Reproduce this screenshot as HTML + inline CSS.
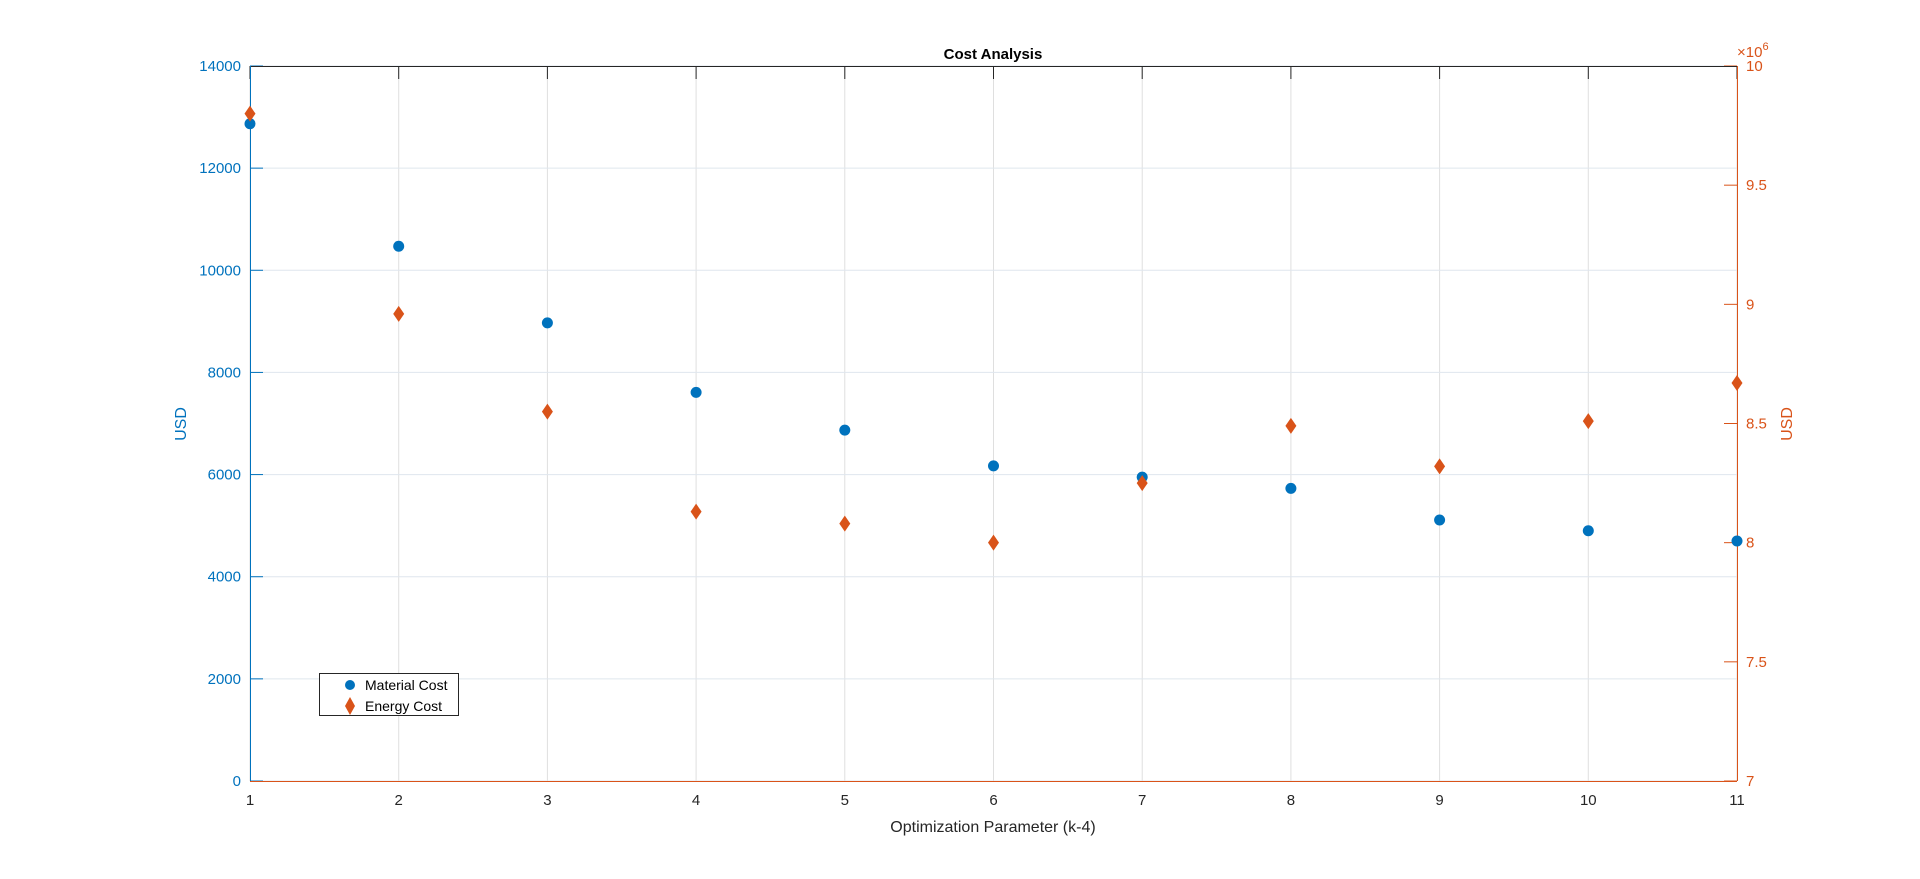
<!DOCTYPE html>
<html><head><meta charset="utf-8"><style>
body{margin:0;background:#fff;}
svg{display:block;font-family:"Liberation Sans",Arial,sans-serif;}
</style></head><body>
<svg id="chart" width="1920" height="879">
<rect width="1920" height="879" fill="#fff"/>
<g id="grid"></g>
<g id="axes"></g>
<g id="marks"></g>
<text x="993" y="59" text-anchor="middle" font-size="15" font-weight="bold" fill="#000">Cost Analysis</text>
<text x="993" y="832" text-anchor="middle" font-size="16" fill="#262626">Optimization Parameter (k-4)</text>
<text transform="translate(186,424) rotate(-90)" text-anchor="middle" font-size="16" fill="#0072bd">USD</text>
<text transform="translate(1792,424) rotate(-90)" text-anchor="middle" font-size="16" fill="#d95319">USD</text>
<text x="1737" y="57" font-size="15" fill="#d95319">×10<tspan dy="-7" font-size="11">6</tspan></text>
<g>
<rect x="319.5" y="673.5" width="139" height="42" fill="#fff" stroke="#262626" stroke-width="1"/>
<circle cx="350" cy="685" r="5" fill="#0072bd"/>
<text x="365" y="690" font-size="14" fill="#000">Material Cost</text>
<polygon points="350,697 355,706 350,715 345,706" fill="#d95319"/>
<text x="365" y="711" font-size="14" fill="#000">Energy Cost</text>
</g>
</svg>
<script>
const categories=[1,2,3,4,5,6,7,8,9,10,11];
const materialCost=[12870,10470,8970,7610,6870,6170,5950,5730,5110,4900,4700];
const energyCost=[9.80,8.96,8.55,8.13,8.08,8.00,8.25,8.49,8.32,8.51,8.67];
const leftTicks=[0,2000,4000,6000,8000,10000,12000,14000];
const rightTicks=[7,7.5,8,8.5,9,9.5,10];
const rightTickLabels=["7","7.5","8","8.5","9","9.5","10"];

const L=250,R=1737,T=66,B=781;
const NS="http://www.w3.org/2000/svg";
const xS=v=>L+(v-1)/(10)*(R-L);
const yL=v=>B-v/14000*(B-T);
const yR=v=>B-(v-7)/3*(B-T);
function mk(tag,attrs,parent){const e=document.createElementNS(NS,tag);for(const k in attrs)e.setAttribute(k,attrs[k]);parent.appendChild(e);return e;}
const grid=document.getElementById('grid'),axes=document.getElementById('axes'),marks=document.getElementById('marks');
categories.forEach(c=>{
  const x=xS(c);
  const g=mk('line',{x1:x,x2:x,y1:T,y2:B,stroke:'#dfdfdf','stroke-width':1},grid);
  
  
  mk('line',{x1:x,x2:x,y1:T,y2:T+13,stroke:'#262626'},axes);
  const t=mk('text',{x:x,y:B+24,'text-anchor':'middle','font-size':15,fill:'#262626'},axes);
  t.textContent=c;
  
  
});
leftTicks.forEach(v=>{
  const y=yL(v);
  const g=mk('line',{x1:L,x2:R,y1:y,y2:y,stroke:'#dfe6ee','stroke-width':1},grid);
  
  
  mk('line',{x1:L,x2:L+13,y1:y,y2:y,stroke:'#0072bd'},axes);
  const t=mk('text',{x:L-9,y:y+5,'text-anchor':'end','font-size':15,fill:'#0072bd'},axes);
  t.textContent=v;
  
  
});
rightTicks.forEach((v,i)=>{
  const y=yR(v);
  mk('line',{x1:R-13,x2:R,y1:y,y2:y,stroke:'#d95319'},axes);
  const t=mk('text',{x:R+9,y:y+5,'font-size':15,fill:'#d95319'},axes);
  t.textContent=rightTickLabels[i];
  
  
});
mk('line',{x1:L,x2:R,y1:T+0.5,y2:T+0.5,stroke:'#262626'},axes);
mk('line',{x1:L,x2:R,y1:B+0.5,y2:B+0.5,stroke:'#d95319'},axes);
mk('line',{x1:L+0.5,x2:L+0.5,y1:T,y2:B,stroke:'#0072bd'},axes);
mk('line',{x1:R+0.5,x2:R+0.5,y1:T,y2:B,stroke:'#d95319'},axes);
categories.forEach((c,i)=>{
  const x=xS(c);
  const p=mk('circle',{cx:x,cy:yL(materialCost[i]),r:5.5,fill:'#0072bd'},marks);
  
  
});
categories.forEach((c,i)=>{
  const x=xS(c),y=yR(energyCost[i]);
  const d=mk('polygon',{points:`${x},${y-8} ${x+5.5},${y} ${x},${y+8} ${x-5.5},${y}`,fill:'#d95319'},marks);
  
  
});
</script>
</body></html>
